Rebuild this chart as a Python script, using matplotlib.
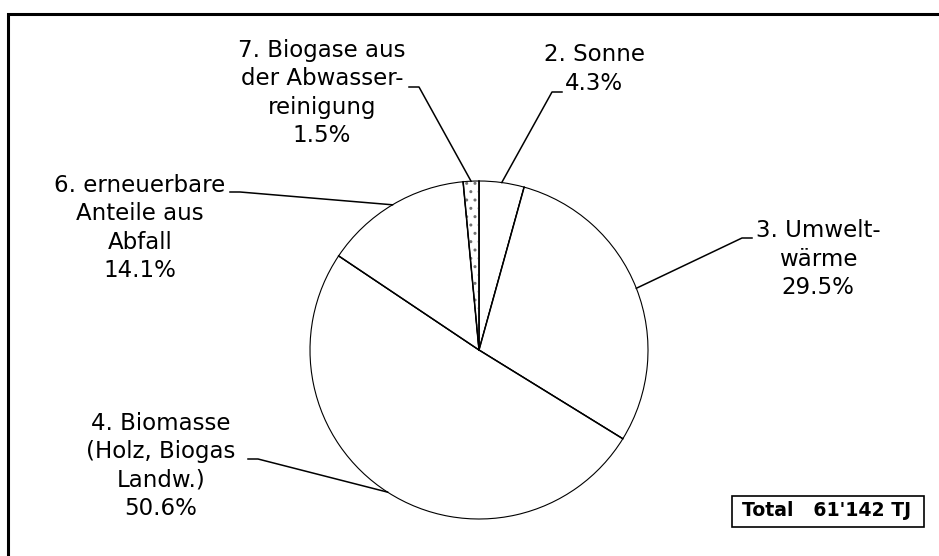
import matplotlib.pyplot as plt
import numpy as np
from matplotlib.patches import Wedge, Rectangle

# canvas in pixels, so layout numbers below are read straight off the reference
W, H = 939, 556

labels = ["2. Sonne", "3. Umwelt-\nwärme", "4. Biomasse\n(Holz, Biogas\nLandw.)",
          "6. erneuerbare\nAnteile aus\nAbfall", "7. Biogase aus\nder Abwasser-\nreinigung"]
shares = [4.3, 29.5, 50.6, 14.1, 1.5]
total_text = "Total   61'142 TJ"

# label layout: text centre, leader start, side of the short horizontal tick
label_pos = [(594, 69), (818, 259), (161, 466), (140, 228), (322, 93)]
tick_pos = [(552, 92, 1), (742, 238, 1), (258, 459, -1), (240, 192, -1), (419, 87, -1)]

plt.rcParams['font.family'] = ['DejaVu Sans']

fig = plt.figure(figsize=(W / 100, H / 100), dpi=100)
ax = fig.add_axes([0, 0, 1, 1])

cx, cy, r = 479, H - 350, 169
wedges, _ = ax.pie(shares, startangle=90, counterclock=False, center=(cx, cy), radius=r,
                   colors=['white'] * len(shares),
                   wedgeprops=dict(edgecolor='black', linewidth=0.8))

# radial lines are a bit heavier than the rim
for w in wedges:
    a = np.deg2rad(w.theta1)
    ax.plot([cx, cx + r * np.cos(a)], [cy, cy + r * np.sin(a)], color='black', lw=1.1)

# grey dots in the small sewage gas slice
w7 = wedges[4]
ax.add_patch(Wedge((cx, cy), r, w7.theta1, w7.theta2, facecolor='none',
                   edgecolor='0.45', linewidth=0, hatch='..'))

for w, lab, v, (tx, ty), (lx, ly, side) in zip(wedges, labels, shares, label_pos, tick_pos):
    ang = np.deg2rad((w.theta1 + w.theta2) / 2)
    ex, ey = cx + r * np.cos(ang), cy + r * np.sin(ang)
    x2 = lx + side * 10
    ax.plot([ex, lx, x2], [ey, H - ly, H - ly], color='black', lw=1.1)
    ax.text(tx, H - ty, f"{lab}\n{v:.1f}%", ha='center', va='center', fontsize=16.5,
            linespacing=1.28)

# outer frame, cut by the picture edge on the right and bottom
ax.plot([8, 8, W + 10], [-10, H - 14, H - 14], color='black', lw=2.2,
        solid_joinstyle='miter')

ax.add_patch(Rectangle((732, H - 527), 192, 31, fill=False, lw=1.2, edgecolor='black'))
ax.text(827, H - 511, total_text, ha='center', va='center', fontsize=13.6,
        fontweight='bold')

ax.set_xlim(0, W)
ax.set_ylim(0, H)
ax.set_aspect('equal')
ax.axis('off')

fig.savefig('out.png', dpi=100)
